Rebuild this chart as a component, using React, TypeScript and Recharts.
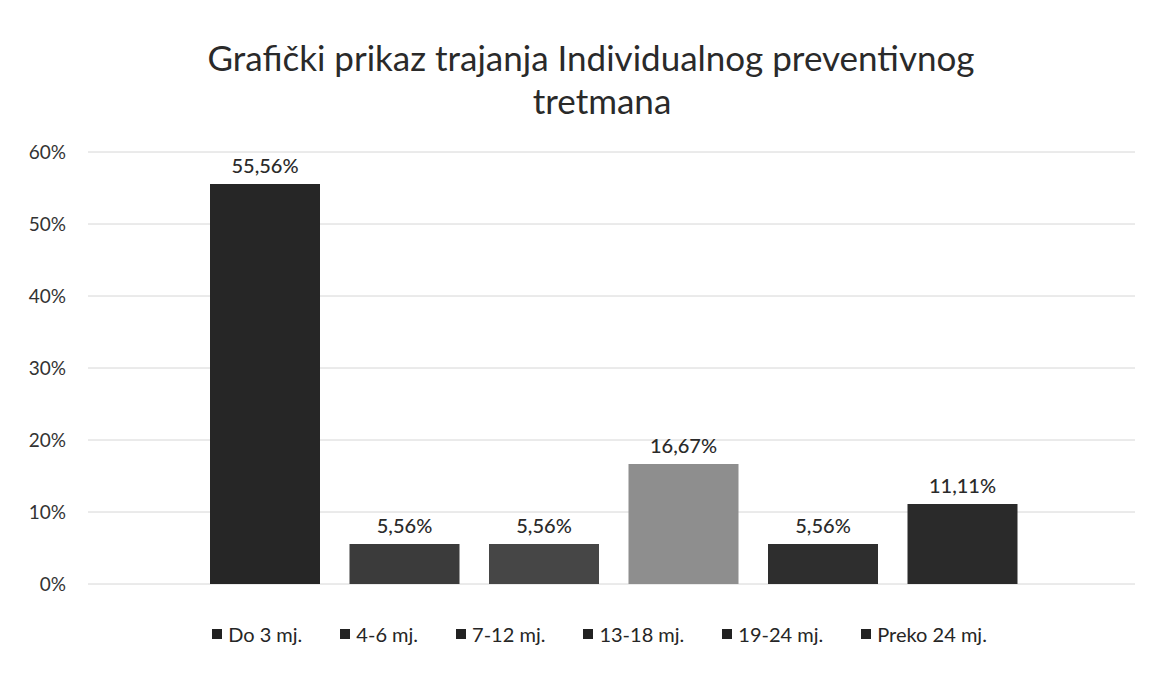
import React from "react";
import {
  BarChart,
  Bar,
  Cell,
  XAxis,
  YAxis,
  CartesianGrid,
  Legend,
  LabelList,
} from "recharts";

const categories = ["Do 3 mj.", "4-6 mj.", "7-12 mj.", "13-18 mj.", "19-24 mj.", "Preko 24 mj."];
const shares = [55.56, 5.56, 5.56, 16.67, 5.56, 11.11];
const yTicks = [0, 10, 20, 30, 40, 50, 60];

const barColors = ["#262626", "#3b3b3b", "#464646", "#8e8e8e", "#2e2e2e", "#2a2a2a"];
const legendColor = "#222222";
const font = "Lato, 'Open Sans', sans-serif";

const chartData = categories.map((name, i) => ({ name, value: shares[i] }));

const formatPct = (v: number) => `${v.toFixed(2).replace(".", ",")}%`;

const LegendContent = () => (
  <div
    style={{
      height: 62,
      display: "flex",
      justifyContent: "center",
      alignItems: "flex-end",
      gap: 38,
      fontFamily: font,
      fontSize: 20,
      color: "#262626",
      paddingLeft: 56,
    }}
  >
    {categories.map((c) => (
      <span key={c} style={{ display: "flex", alignItems: "center", gap: 6 }}>
        <span style={{ width: 10, height: 10, background: legendColor, display: "inline-block" }} />
        {c}
      </span>
    ))}
  </div>
);

const App: React.FC = () => {
  return (
    <div
      style={{
        position: "absolute",
        left: 0,
        top: 0,
        width: 1153,
        height: 673,
        background: "#ffffff",
        overflow: "hidden",
      }}
    >
      <div
        style={{
          position: "absolute",
          top: 36,
          left: 0,
          width: 1182,
          textAlign: "center",
          fontFamily: font,
          fontSize: 35,
          lineHeight: "43px",
          color: "#2a2a2a",
        }}
      >
        Grafički prikaz trajanja Individualnog preventivnog
        <br />
        <span style={{ paddingLeft: 22 }}>tretmana</span>
      </div>
      <BarChart
        width={1153}
        height={673}
        data={chartData}
        margin={{ top: 152, right: 18, left: 8, bottom: 27 }}
      >
        <CartesianGrid vertical={false} stroke="#d6d6d6" />
        <XAxis dataKey="name" hide padding={{ left: 107, right: 103 }} />
        <YAxis
          domain={[0, 60]}
          ticks={yTicks}
          width={80}
          axisLine={false}
          tickLine={false}
          tickSize={0}
          tickMargin={22}
          tickFormatter={(v: number) => `${v}%`}
          tick={{ fill: "#333333", fontSize: 19, fontFamily: font }}
        />
        <Legend verticalAlign="bottom" content={<LegendContent />} />
        <Bar dataKey="value" barSize={110} isAnimationActive={false}>
          {chartData.map((d, i) => (
            <Cell key={d.name} fill={barColors[i]} />
          ))}
          <LabelList
            dataKey="value"
            position="top"
            offset={11}
            formatter={(v: number) => formatPct(v)}
            style={{ fill: "#2a2a2a", fontSize: 20, fontFamily: font, fontWeight: 500 }}
          />
        </Bar>
      </BarChart>
    </div>
  );
};

export default App;
